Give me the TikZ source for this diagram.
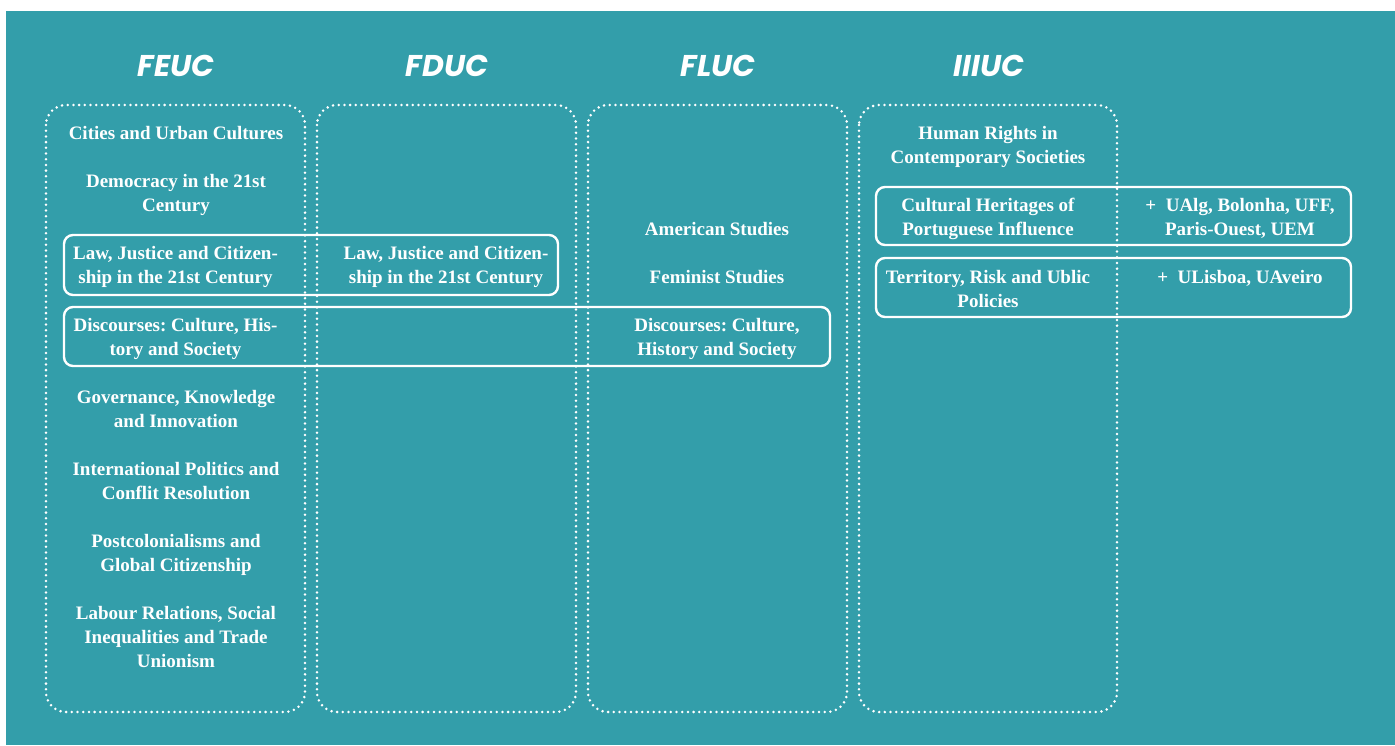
\documentclass[tikz,border=0pt]{standalone}
\usepackage{fontspec}
\setmainfont{Liberation Serif}
\newfontfamily\hdrfont{Poppins}
\definecolor{teal}{RGB}{51,158,170}
\frenchspacing
\begin{document}
\begin{tikzpicture}[x=1pt,y=-1pt,
  dotbox/.style={draw=white,line width=2.8pt,dash pattern=on 0pt off 5.7pt,line cap=round,rounded corners=20pt},
  solidbox/.style={draw=white,line width=2.4pt,rounded corners=9pt},
  hdr/.style={text=white,font=\hdrfont\bfseries\itshape\fontsize{30}{36}\selectfont,anchor=base,inner sep=0pt},
  item/.style={text=white,font=\frenchspacing\bfseries\fontsize{19}{24}\selectfont,align=center,anchor=base,inner sep=0pt}]
\useasboundingbox (0,0) rectangle (1395,745);
\fill[white] (0,0) rectangle (1395,745);
\fill[teal] (6,11) rectangle (1395,745);
% column boxes
\draw[dotbox] (46,105) rectangle (305,712);
\draw[dotbox] (317,105) rectangle (576,712);
\draw[dotbox] (588,105) rectangle (847,712);
\draw[dotbox] (859,105) rectangle (1117,712);
% headers
\node[hdr] (hfeuc) at (176,76) {FEUC};
\node[hdr] (hfduc) at (447,76) {FDUC};
\node[hdr] (hfluc) at (718,76) {FLUC};
\node[hdr] (hiiiuc) at (989,76) {IIIUC};
% solid boxes
\draw[solidbox] (64,235) rectangle (558,295);
\draw[solidbox] (64,307) rectangle (830,366);
\draw[solidbox] (876,187) rectangle (1351,245);
\draw[solidbox] (876,258) rectangle (1351,317);
% FEUC items (anchor = baseline of last line)
\node[item] (f1) at (176,139) {Cities and Urban Cultures};
\node[item] (f2) at (176,211) {Democracy in the 21st\\Century};
\node[item] (f3) at (175.5,283) {Law, Justice and Citizen-\\ship in the 21st Century};
\node[item] (f4) at (175.5,355) {Discourses: Culture, His-\\tory and Society};
\node[item] (f5) at (176,427) {Governance, Knowledge\\and Innovation};
\node[item] (f6) at (176,499) {International Politics and\\Conflit Resolution};
\node[item] (f7) at (176,571) {Postcolonialisms and\\Global Citizenship};
\node[item] (f8) at (176,667) {Labour Relations, Social\\Inequalities and Trade\\Unionism};
% FDUC
\node[item] (d1) at (446,283) {Law, Justice and Citizen-\\ship in the 21st Century};
% FLUC
\node[item] (l1) at (717,235) {American Studies};
\node[item] (l2) at (717,283) {Feminist Studies};
\node[item] (l3) at (717,355) {Discourses: Culture,\\History and Society};
% IIIUC
\node[item] (i1) at (988,163) {Human Rights in\\Contemporary Societies};
\node[item] (i2) at (988,235) {Cultural Heritages of\\Portuguese Influence};
\node[item] (i3) at (988,307) {Territory, Risk and Ublic\\Policies};
\node[item] (p1) at (1240,235) {+\ \ UAlg, Bolonha, UFF,\\Paris-Ouest, UEM};
\node[item] (p2) at (1240,283) {+\ \ ULisboa, UAveiro};
\end{tikzpicture}
\end{document}
